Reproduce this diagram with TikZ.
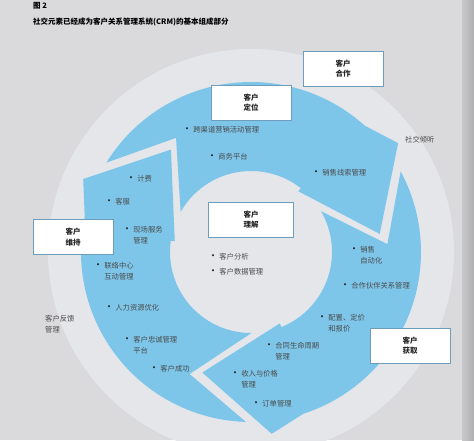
\documentclass[tikz,border=0pt]{standalone}
\usepackage{fontspec}
\setmainfont{Noto Sans CJK SC}
\definecolor{bg}{HTML}{DADADD}
\definecolor{pale}{HTML}{E4E6EA}
\definecolor{ringblue}{HTML}{7DC6EA}
\definecolor{boxline}{HTML}{6E9CBB}
\definecolor{txt}{HTML}{4A4A4A}
\newcommand\bul{\raisebox{0.3pt}{\textcolor{black!85}{\fontsize{10}{10}\selectfont •}}\hspace{1.2pt}}
\newcommand\ind{\phantom{\bul}}
\begin{document}
\begin{tikzpicture}[x=1pt,y=1pt,
  box/.style={draw=boxline, line width=0.9pt, fill=white, minimum width=80pt, minimum height=35pt, align=center, font=\fontsize{7.5}{10.5}\selectfont\bfseries, text=black!85, inner sep=0pt},
  item/.style={anchor=north west, align=left, inner sep=0pt, font=\fontsize{7.3}{11}\selectfont, text=txt}]
\useasboundingbox (0,0) rectangle (474,440);
\fill[bg] (0,0) rectangle (474,440);
\shade[left color=bg!92!black, right color=bg!80!black] (462,0) rectangle (474,440);
\begin{scope}[shift={(251,188)}]
  \fill[pale] (0,0) circle[radius=203pt];
  \foreach \t in {8,128,248} {
    \fill[ringblue] ({\t+140.3}:170pt) arc[start angle={\t+140.3}, end angle={\t+40}, radius=170pt]
      -- ({\t+28.5}:183pt) -- (\t:130pt) -- ({\t+44}:77pt) -- ({\t+44}:81pt)
      arc[start angle={\t+44}, end angle={\t+142.3}, radius=81pt]
      -- ({\t+115.3}:136.6pt) -- cycle;
  }
\end{scope}
% title
\node[anchor=west, inner sep=0pt, font=\fontsize{7.5}{9}\selectfont\bfseries] (fig) at (33,434) {图 2};
\node[anchor=west, inner sep=0pt, font=\fontsize{7.5}{9}\selectfont\bfseries] (title) at (33,418) {社交元素已经成为客户关系管理系统(CRM)的基本组成部分};
% boxes
\node[box] (coop) at (343,371.5) {客户\\合作};
\node[box] (pos) at (251,337.5) {客户\\定位};
\node[box, minimum width=85pt] (und) at (251,220.5) {客户\\理解};
\node[box] (ret) at (73,203) {客户\\维持};
\node[box] (acq) at (410,94.5) {客户\\获取};
% items
\node[item] (i1) at (182,314) {\bul 跨渠道营销活动管理};
\node[item] (i2) at (207,287) {\bul 商务平台};
\node[item] (i3) at (311,271) {\bul 销售线索管理};
\node[item] (i4) at (126,265) {\bul 计费};
\node[item] (i5) at (104,242) {\bul 客服};
\node[item] (i6) at (122,214) {\bul 现场服务\\\ind 管理};
\node[item] (i7) at (93,178) {\bul 联络中心\\\ind 互动管理};
\node[item] (i8) at (208,187) {\bul 客户分析};
\node[item] (i9) at (208,172) {\bul 客户数据管理};
\node[item] (i10) at (349,194) {\bul 销售\\\ind 自动化};
\node[item] (i11) at (340,158) {\bul 合作伙伴关系管理};
\node[item] (i12) at (104,136) {\bul 人力资源优化};
\node[item] (i13) at (317,126) {\bul 配置、定价\\\ind 和报价};
\node[item] (i14) at (122,104) {\bul 客户忠诚管理\\\ind 平台};
\node[item] (i15) at (264,98) {\bul 合同生命周期\\\ind 管理};
\node[item] (i16) at (149,75) {\bul 客户成功};
\node[item] (i17) at (230,70) {\bul 收入与价格\\\ind 管理};
\node[item] (i18) at (251,40) {\bul 订单管理};
\node[item] (fb) at (45,125) {客户反馈\\管理};
\node[item] (sl) at (405,304) {社交倾听};
\end{tikzpicture}
\end{document}
